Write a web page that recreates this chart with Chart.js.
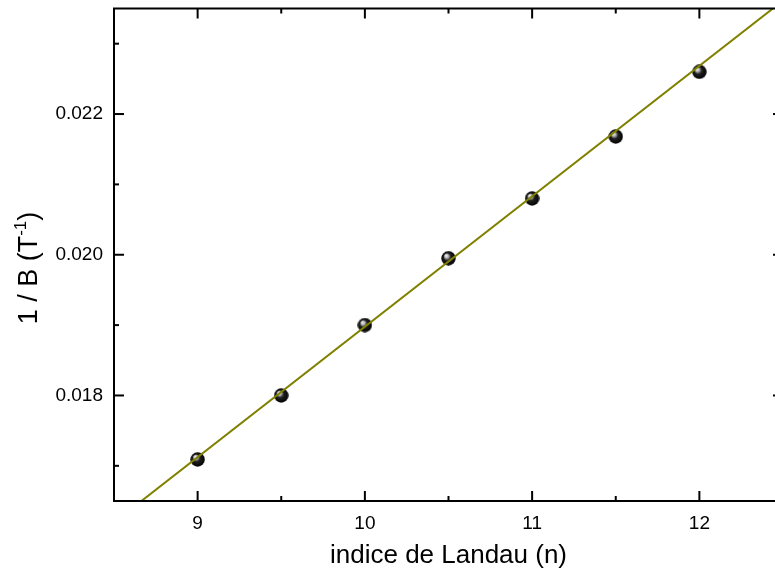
<!DOCTYPE html>
<html>
<head>
<meta charset="utf-8">
<script src="https://cdn.jsdelivr.net/npm/chart.js@4"></script>
<style>
  html, body { margin: 0; padding: 0; background: #fff; overflow: hidden; }
  #wrap { width: 800px; height: 576px; }
</style>
</head>
<body>
<div id="wrap"><canvas id="landauChart" width="800" height="576"></canvas></div>
<script>
// Landau level index vs 1/B
const landauIndex = [9, 9.5, 10, 10.5, 11, 11.5, 12];
const inverseB = [0.01709, 0.01800, 0.01900, 0.01995, 0.02080, 0.02168, 0.02260];

// linear fit at axis ends
const fitX = [8.5, 12.5];
const fitY = [0.016196, 0.023612];

const xMajorTicks = [9, 10, 11, 12];
const xMinorTicks = [8.5, 9.5, 10.5, 11.5, 12.5];
const yMajorTicks = [0.018, 0.020, 0.022];
const yMinorTicks = [0.017, 0.019, 0.021, 0.023];

const xTitle = "indice de Landau (n)";
const yTitleParts = ["1 / B (T", "-1", ")"];

/* shaded sphere marker */
const makeBall = (r) => {
  const c = document.createElement("canvas");
  c.width = Math.ceil(r * 2);
  c.height = Math.ceil(r * 2);
  const g = c.getContext("2d");
  const grad = g.createRadialGradient(r * 0.65, r * 0.6, 0, r, r, r);
  grad.addColorStop(0, "#ffffff");
  grad.addColorStop(0.25, "#b8b8b8");
  grad.addColorStop(0.5, "#202020");
  grad.addColorStop(1, "#000000");
  g.fillStyle = grad;
  g.beginPath();
  g.arc(r, r, r - 0.3, 0, Math.PI * 2);
  g.fill();
  return c;
};
const ball = makeBall(7.5);

// frame, inward ticks and y title
const framePlugin = {
  id: "frame",
  afterDraw: (chart) => {
    const ctx = chart.ctx;
    const a = chart.chartArea;
    const xs = chart.scales.x;
    const ys = chart.scales.y;
    ctx.save();
    ctx.strokeStyle = "#000";
    ctx.lineWidth = 2;
    ctx.strokeRect(a.left, a.top, a.right - a.left, a.bottom - a.top);

    const tick = (x1, y1, x2, y2) => {
      ctx.beginPath();
      ctx.moveTo(x1, y1);
      ctx.lineTo(x2, y2);
      ctx.stroke();
    };
    xMajorTicks.forEach((v) => {
      const px = xs.getPixelForValue(v);
      tick(px, a.bottom, px, a.bottom - 10);
      tick(px, a.top, px, a.top + 10);
    });
    xMinorTicks.forEach((v) => {
      const px = xs.getPixelForValue(v);
      tick(px, a.bottom, px, a.bottom - 5);
      tick(px, a.top, px, a.top + 5);
    });
    yMajorTicks.forEach((v) => {
      const py = ys.getPixelForValue(v);
      tick(a.left, py, a.left + 10, py);
      tick(a.right, py, a.right - 10, py);
    });
    yMinorTicks.forEach((v) => {
      const py = ys.getPixelForValue(v);
      tick(a.left, py, a.left + 5, py);
      tick(a.right, py, a.right - 5, py);
    });

    // y axis title with superscript
    ctx.fillStyle = "#000";
    ctx.translate(37, 268);
    ctx.rotate(-Math.PI / 2);
    const big = "27px 'Liberation Sans', Arial, sans-serif";
    const small = "17px 'Liberation Sans', Arial, sans-serif";
    ctx.font = big;
    const w0 = ctx.measureText(yTitleParts[0]).width;
    const w2 = ctx.measureText(yTitleParts[2]).width;
    ctx.font = small;
    const w1 = ctx.measureText(yTitleParts[1]).width;
    let x0 = -(w0 + w1 + w2) / 2;
    ctx.textBaseline = "alphabetic";
    ctx.font = big;
    ctx.fillText(yTitleParts[0], x0, 0);
    ctx.font = small;
    ctx.fillText(yTitleParts[1], x0 + w0, -11);
    ctx.font = big;
    ctx.fillText(yTitleParts[2], x0 + w0 + w1, 0);
    ctx.restore();
  },
};

const ctx = document.getElementById("landauChart").getContext("2d");

const myChart = new Chart(ctx, {
  type: "scatter",
  data: {
    datasets: [
      {
        label: "fit",
        data: fitX.map((x, i) => ({ x: x, y: fitY[i] })),
        showLine: true,
        borderColor: "#808000",
        borderWidth: 2,
        pointRadius: 0,
      },
      {
        label: "1/B",
        data: landauIndex.map((x, i) => ({ x: x, y: inverseB[i] })),
        pointStyle: ball,
        pointRadius: 7.5,
      },
    ],
  },
  options: {
    responsive: false,
    animation: false,
    layout: { padding: { top: 8, right: 17, left: 0, bottom: 0 } },
    plugins: {
      legend: { display: false },
      tooltip: { enabled: false },
    },
    scales: {
      x: {
        type: "linear",
        min: 8.5,
        max: 12.5,
        grid: { display: false, drawTicks: false },
        border: { display: false },
        afterBuildTicks: (s) => {
          s.ticks = xMajorTicks.map((v) => ({ value: v }));
        },
        afterFit: (s) => {
          s.height = 75;
          s.paddingLeft = 0;
          s.paddingRight = 0;
        },
        ticks: {
          color: "#000",
          padding: 11,
          maxRotation: 0,
          font: { family: "'Liberation Sans', Arial, sans-serif", size: 19 },
          callback: (v) => String(v),
        },
        title: {
          display: true,
          text: xTitle,
          color: "#000",
          padding: { top: 4, bottom: 5 },
          font: { family: "'Liberation Sans', Arial, sans-serif", size: 26 },
        },
      },
      y: {
        type: "linear",
        min: 0.0165,
        max: 0.0235,
        grid: { display: false, drawTicks: false },
        border: { display: false },
        afterBuildTicks: (s) => {
          s.ticks = yMajorTicks.map((v) => ({ value: v }));
        },
        afterFit: (s) => {
          s.width = 114;
          s.paddingTop = 0;
          s.paddingBottom = 0;
        },
        ticks: {
          color: "#000",
          padding: 11,
          font: { family: "'Liberation Sans', Arial, sans-serif", size: 19 },
          callback: (v) => v.toFixed(3),
        },
      },
    },
  },
  plugins: [framePlugin],
});
</script>
</body>
</html>
